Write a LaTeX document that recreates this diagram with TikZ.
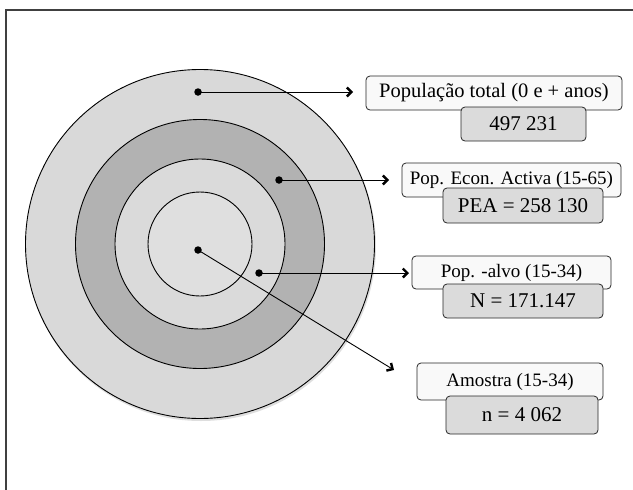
\documentclass[tikz,border=0pt]{standalone}
\usepackage{fontspec}
\setmainfont{Liberation Serif}
\usetikzlibrary{arrows.meta}
\definecolor{ringA}{gray}{0.85}
\definecolor{ringB}{gray}{0.70}
\definecolor{ringC}{gray}{0.855}
\definecolor{ringD}{gray}{0.875}
\definecolor{lblfill}{gray}{0.975}
\definecolor{valfill}{gray}{0.86}
\tikzset{
  ring/.style={draw=black, line width=0.9pt},
  lbl/.style={draw=black!85, fill=lblfill, rounded corners=4pt, line width=0.8pt, inner sep=0pt, font=\fontsize{19}{22}\selectfont},
  val/.style={draw=black!85, fill=valfill, rounded corners=4pt, line width=0.8pt, inner sep=0pt, font=\fontsize{21}{24}\selectfont},
  dotmark/.style={fill=black, circle, inner sep=0pt, minimum size=7.5pt},
  conn/.style={line width=0.9pt, -{Straight Barb[length=4.5pt,width=9pt,line width=2.4pt]}, shorten <=-3pt},
  frameline/.style={draw=black!75, line width=1.2pt}
}
\begin{document}
\begin{tikzpicture}[x=1pt,y=-1pt]
\useasboundingbox (0,0) rectangle (633,490);
\fill[white] (0,0) rectangle (633,490);
\draw[frameline] (633,10) -- (6,10) -- (6,490);
% circles
\fill[black!25, opacity=0.5] (201,246) circle (175);
\filldraw[ring, fill=ringA] (200,244) circle (174.5);
\filldraw[ring, fill=ringB] (200,244) circle (124.5);
\filldraw[ring, fill=ringC] (200,244) circle (85);
\filldraw[ring, fill=ringD] (200,244) circle (52);
% dots
\node[dotmark] (d1) at (198,92) {};
\node[dotmark] (d2) at (279,180) {};
\node[dotmark] (d3) at (259,273) {};
\node[dotmark] (d4) at (198,250) {};
% arrow ends
\coordinate (e1) at (353,92);
\coordinate (e2) at (389,180);
\coordinate (e3) at (409,273);
\coordinate (e4) at (394,370);
% boxes
\node[lbl, minimum width=256pt, minimum height=34pt, font=\fontsize{20.5}{23}\selectfont] (l1) at (494,93) {População total (0 e + anos)};
\node[val, minimum width=125pt, minimum height=34pt] (v1) at (523.5,124) {497 231};
\node[lbl, minimum width=219pt, minimum height=34pt] (l2) at (511.5,180) {Pop. Econ. Activa (15-65)};
\node[val, minimum width=160pt, minimum height=35pt] (v2) at (523,205.5) {PEA = 258 130};
\node[lbl, minimum width=199pt, minimum height=33pt] (l3) at (511.5,272.5) {Pop. -alvo (15-34)};
\node[val, minimum width=160pt, minimum height=34pt] (v3) at (523,301) {N = 171.147};
\node[lbl, minimum width=186pt, minimum height=37pt] (l4) at (510,381.5) {Amostra (15-34)};
\node[val, minimum width=152pt, minimum height=38pt] (v4) at (522,415) {n = 4 062};
% connectors
\draw[conn] (d1.center) -- (e1);
\draw[conn] (d2.center) -- (e2);
\draw[conn] (d3.center) -- (e3);
\draw[conn] (d4.center) -- (e4);
\end{tikzpicture}
\end{document}
